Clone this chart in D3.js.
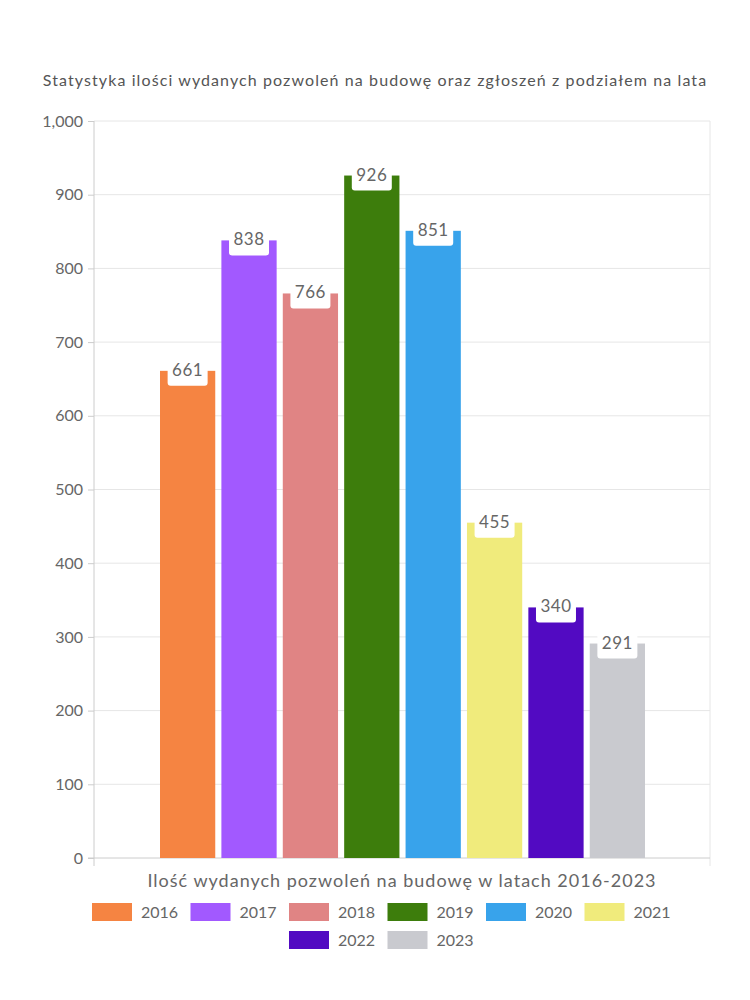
<!DOCTYPE html>
<html>
<head>
<meta charset="utf-8">
<script src="https://d3js.org/d3.v7.min.js"></script>
<style>
  body { margin: 0; background: #fff; }
  text { font-family: Lato, "Open Sans", sans-serif; fill: #666; }
</style>
</head>
<body>
<div class="chart"></div>
<script>
var years = ["2016", "2017", "2018", "2019", "2020", "2021", "2022", "2023"];
var values = [661, 838, 766, 926, 851, 455, 340, 291];
var colors = ["#f58442", "#a259ff", "#e08484", "#3d7d0c", "#38a3eb", "#f0eb7c", "#520ac2", "#c9cacf"];
var yTicks = [0, 100, 200, 300, 400, 500, 600, 700, 800, 900, 1000];

var width = 750, height = 1000;
var plotLeft = 94, plotRight = 710, plotTop = 121, plotBottom = 858;

var svg = d3.select(".chart").append("svg")
  .attr("width", width)
  .attr("height", height);

var y = d3.scaleLinear().domain([0, 1000]).range([plotBottom, plotTop]);
var x = d3.scaleBand().domain(years)
  .range([160, 645])
  .paddingInner(0.1);

// gridlines
svg.append("g").selectAll("line")
  .data(yTicks.filter(function (d) { return d > 0; }))
  .enter().append("line")
  .attr("x1", plotLeft).attr("x2", plotRight)
  .attr("y1", function (d) { return y(d); })
  .attr("y2", function (d) { return y(d); })
  .style("stroke", "#e6e6e6");

svg.append("line")
  .attr("x1", plotRight).attr("x2", plotRight)
  .attr("y1", plotTop).attr("y2", plotBottom + 8)
  .style("stroke", "#e6e6e6");

// y axis
var yAxis = d3.axisLeft(y).tickValues(yTicks).tickSize(6).tickPadding(5)
  .tickFormat(d3.format(","));
var gy = svg.append("g").attr("transform", "translate(" + plotLeft + ",0)").call(yAxis);
gy.select(".domain").remove();
gy.selectAll(".tick line").style("stroke", "#ccc");
gy.selectAll(".tick text").style("font-size", "16px").style("fill", "#666");
svg.append("line")
  .attr("x1", plotLeft).attr("x2", plotLeft)
  .attr("y1", plotTop).attr("y2", plotBottom + 8)
  .style("stroke", "#ccc");
svg.append("line")
  .attr("x1", plotLeft - 6).attr("x2", plotRight)
  .attr("y1", plotBottom).attr("y2", plotBottom)
  .style("stroke", "#ccc");

// bars
svg.append("g").selectAll("rect")
  .data(values)
  .enter().append("rect")
  .attr("x", function (d, i) { return x(years[i]); })
  .attr("y", function (d) { return y(d); })
  .attr("width", x.bandwidth())
  .attr("height", function (d) { return plotBottom - y(d); })
  .attr("fill", function (d, i) { return colors[i]; });

// value labels
var labels = svg.append("g").selectAll("g")
  .data(values)
  .enter().append("g")
  .attr("transform", function (d, i) {
    return "translate(" + (x(years[i]) + x.bandwidth() / 2) + "," + y(d) + ")";
  });
labels.append("rect")
  .attr("x", -20).attr("y", -12)
  .attr("width", 40).attr("height", 27)
  .attr("rx", 3)
  .attr("fill", "#fff");
labels.append("text")
  .attr("text-anchor", "middle")
  .attr("y", 5)
  .style("font-size", "17px")
  .style("letter-spacing", "0.5px")
  .text(function (d) { return d; });

// title
svg.append("text")
  .attr("x", 375).attr("y", 86)
  .attr("text-anchor", "middle")
  .style("font-size", "16px")
  .style("letter-spacing", "1.1px")
  .style("fill", "#555")
  .text("Statystyka ilości wydanych pozwoleń na budowę oraz zgłoszeń z podziałem na lata");

// x axis title
svg.append("text")
  .attr("x", 402).attr("y", 887)
  .attr("text-anchor", "middle")
  .style("font-size", "18px")
  .style("letter-spacing", "1px")
  .text("Ilość wydanych pozwoleń na budowę w latach 2016-2023");

// legend
var rows = [years.slice(0, 6), years.slice(6)];
var itemStep = 98.5;
rows.forEach(function (row, r) {
  var startX = 375 - (row.length * itemStep - 25) / 2;
  var g = svg.append("g").selectAll("g")
    .data(row)
    .enter().append("g")
    .attr("transform", function (d, i) {
      return "translate(" + (startX + i * itemStep) + "," + (903 + r * 28) + ")";
    });
  g.append("rect")
    .attr("width", 40).attr("height", 18)
    .attr("fill", function (d) { return colors[years.indexOf(d)]; });
  g.append("text")
    .attr("x", 49).attr("y", 15)
    .style("font-size", "16px")
    .text(function (d) { return d; });
});
</script>
</body>
</html>
